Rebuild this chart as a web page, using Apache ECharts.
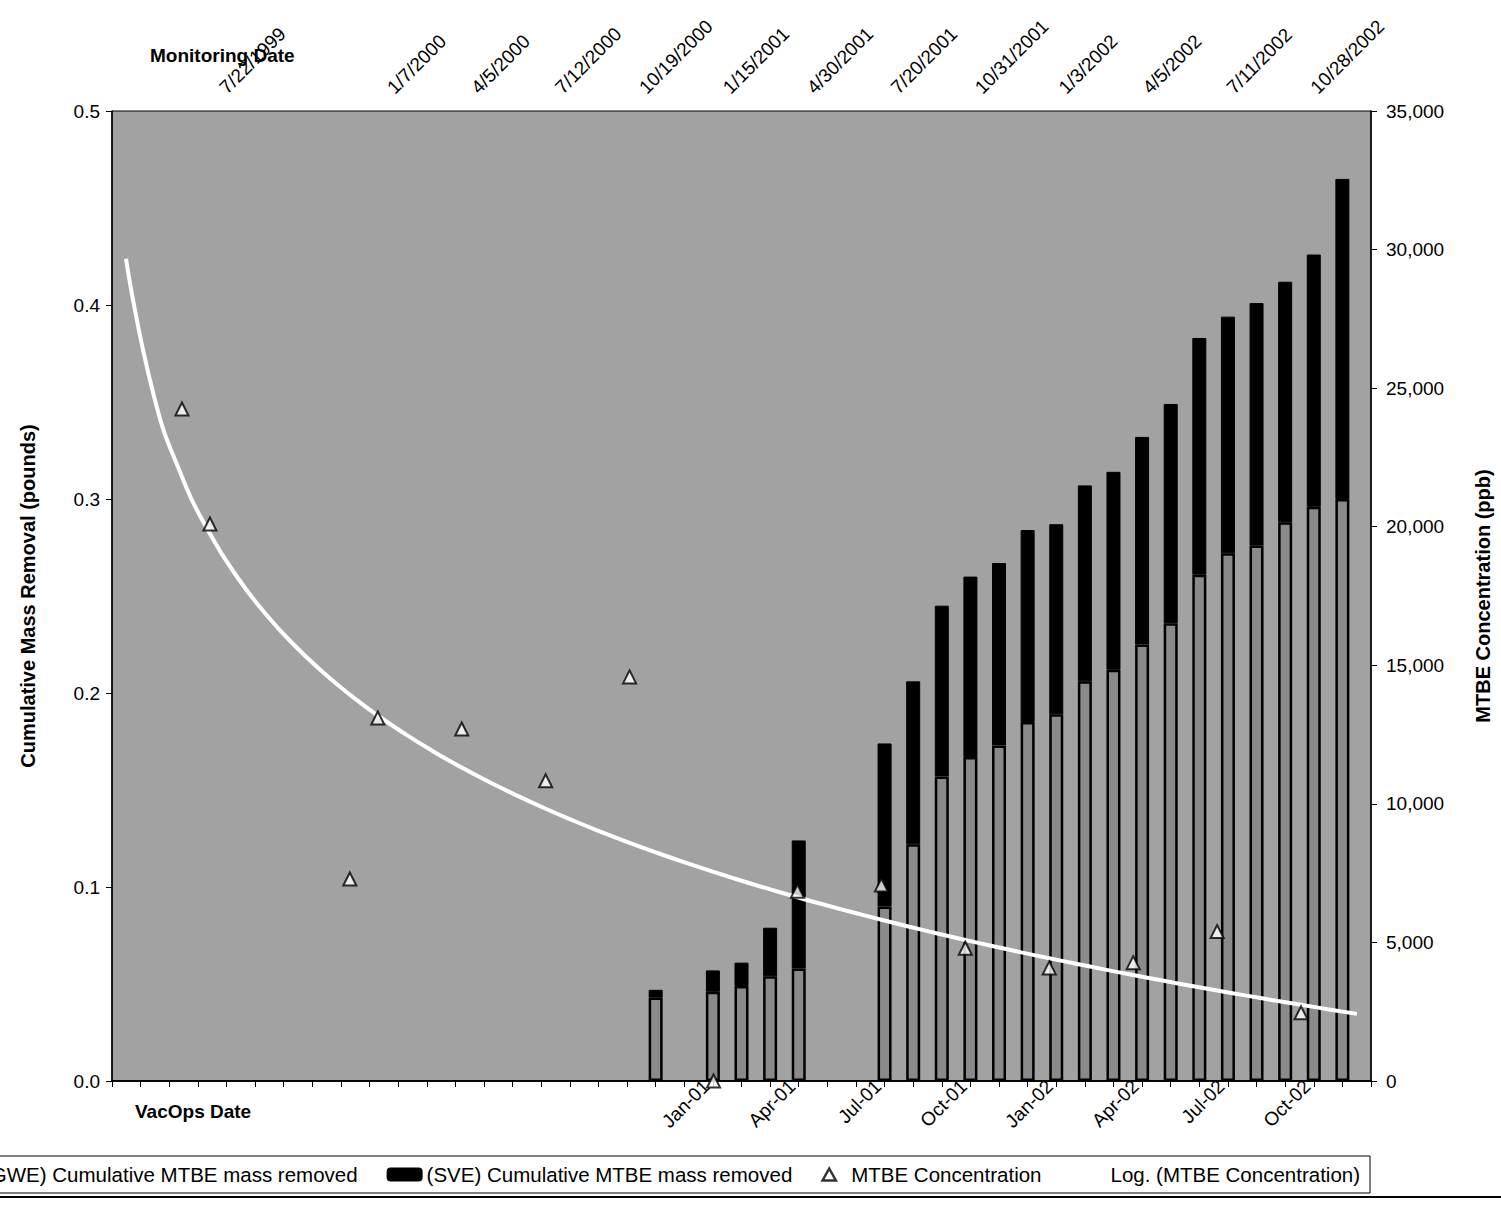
<!DOCTYPE html>
<html><head><meta charset="utf-8">
<script src="https://cdn.jsdelivr.net/npm/echarts@6/dist/echarts.min.js"></script>
<style>html,body{margin:0;padding:0;background:#fff}#c{width:1501px;height:1225px}</style>
</head><body><div id="c"></div>
<script>
// Monthly category axis (VacOps Date)
const axisMonths = ['Apr-99','May-99','Jun-99','Jul-99','Aug-99','Sep-99','Oct-99','Nov-99','Dec-99',
  'Jan-00','Feb-00','Mar-00','Apr-00','May-00','Jun-00','Jul-00','Aug-00','Sep-00','Oct-00','Nov-00','Dec-00',
  'Jan-01','Feb-01','Mar-01','Apr-01','May-01','Jun-01','Jul-01','Aug-01','Sep-01','Oct-01','Nov-01','Dec-01',
  'Jan-02','Feb-02','Mar-02','Apr-02','May-02','Jun-02','Jul-02','Aug-02','Sep-02','Oct-02','Nov-02','Dec-02'];
const vacOpsLabels = ['Jan-01','Apr-01','Jul-01','Oct-01','Jan-02','Apr-02','Jul-02','Oct-02'];

// Cumulative mass removal (pounds) per VacOps month
const vacOpsDates = ['Nov-00','Jan-01','Feb-01','Mar-01','Apr-01','Jul-01','Aug-01','Sep-01','Oct-01','Nov-01','Dec-01',
  'Jan-02','Feb-02','Mar-02','Apr-02','May-02','Jun-02','Jul-02','Aug-02','Sep-02','Oct-02','Nov-02'];
const gweMass = [0.043,0.046,0.049,0.054,0.058,0.090,0.122,0.157,0.167,0.173,0.185,
  0.189,0.206,0.212,0.225,0.236,0.261,0.272,0.276,0.288,0.296,0.300];
const sveMass = [0.004,0.011,0.012,0.025,0.066,0.084,0.084,0.088,0.093,0.094,0.099,
  0.098,0.101,0.102,0.107,0.113,0.122,0.122,0.125,0.124,0.130,0.165];

// Monitoring Date axis (one slot per month) and MTBE concentration (ppb)
const monitoringDates = ['','','','7/22/1999','','','','','','1/7/2000','','','4/5/2000','','','7/12/2000','','',
  '10/19/2000','','','1/15/2001','','','4/30/2001','','','7/20/2001','','','10/31/2001','','','1/3/2002','','',
  '4/5/2002','','','7/11/2002','','','10/28/2002','',''];
const mtbeConc = [null,null,24250,20100,null,null,null,null,7290,13100,null,null,12700,null,null,10830,null,null,
  14580,null,null,0,null,null,6850,null,null,7070,null,null,4790,null,null,4080,null,null,
  4270,null,null,5390,null,null,2460,null,null];

const leftTicks = {min:0, max:0.5, interval:0.1};
const rightTicks = {min:0, max:35000, interval:5000};

// build series data
const gweData = axisMonths.map(m => { const k = vacOpsDates.indexOf(m); return k < 0 ? null : gweMass[k]; });
const sveData = axisMonths.map(m => { const k = vacOpsDates.indexOf(m); return k < 0 ? null : sveMass[k]; });
const mtbePts = [];
mtbeConc.forEach((v, i) => { if (v !== null) mtbePts.push([i, v]); });

// Logarithmic trendline (least squares, x = position 1..n), like the spreadsheet's "Log." fit
let sl = 0, sy = 0, sll = 0, sly = 0, n = 0;
mtbePts.forEach(([i, v]) => { const l = Math.log(i + 1); sl += l; sy += v; sll += l * l; sly += l * v; n++; });
const slope = (n * sly - sl * sy) / (n * sll - sl * sl);
const icpt = (sy - slope * sl) / n;
const trendData = monitoringDates.map((_, i) => slope * Math.log(i + 1) + icpt);

const FONT = 'Liberation Sans';
const txt = {color:'#000', fontFamily:FONT, fontSize:19};

const chart = echarts.init(document.getElementById('c'), null, {renderer:'svg'});
chart.setOption({
  animation:false,
  backgroundColor:'#fff',
  grid:{left:112, right:126, top:111, bottom:144, show:true, backgroundColor:'#a2a2a2', borderColor:'#000', borderWidth:1},
  legend:{
    left:-66, top:1156, orient:'horizontal', itemWidth:34, itemHeight:12, itemGap:29,
    padding:[8,10], backgroundColor:'#fff', borderColor:'#000', borderWidth:1,
    textStyle:{...txt, fontSize:20.5},
    data:[
      {name:'(GWE) Cumulative MTBE mass removed'},
      {name:'(SVE) Cumulative MTBE mass removed'},
      {name:'MTBE Concentration', icon:'path://M5,0 L10,9 L0,9 Z', itemStyle:{color:'#fff', borderColor:'#000', borderWidth:2.5}},
      {name:'Log. (MTBE Concentration)'}
    ]
  },
  xAxis:[
    {type:'category', data:axisMonths, position:'bottom', boundaryGap:false,
     axisLine:{lineStyle:{color:'#000', width:1.5}},
     axisTick:{interval:0, length:6, lineStyle:{color:'#000'}},
     axisLabel:{interval:(i, v) => vacOpsLabels.includes(v), rotate:45, margin:9, verticalAlign:'bottom', ...txt},
     splitLine:{show:false}},
    {type:'category', data:monitoringDates, position:'top', boundaryGap:true,
     axisLine:{lineStyle:{color:'#000', width:1.5}},
     axisTick:{interval:0, length:6, lineStyle:{color:'#000'}},
     axisLabel:{interval:(i, v) => v !== '', rotate:45, margin:8, padding:[0,0,0,18], ...txt},
     splitLine:{show:false}}
  ],
  yAxis:[
    {type:'value', ...leftTicks, position:'left',
     name:'Cumulative Mass Removal (pounds)', nameLocation:'middle', nameGap:74,
     nameTextStyle:{...txt, fontSize:20, fontWeight:'bold'},
     axisLine:{show:true, lineStyle:{color:'#000', width:1.5}},
     axisTick:{show:true, length:6, lineStyle:{color:'#000'}},
     axisLabel:{formatter:v => v.toFixed(1), margin:12, ...txt},
     splitLine:{show:false}},
    {type:'value', ...rightTicks, position:'right',
     name:'MTBE Concentration (ppb)', nameLocation:'middle', nameGap:102,
     nameTextStyle:{...txt, fontSize:20, fontWeight:'bold'},
     axisLine:{show:true, lineStyle:{color:'#000', width:1.5}},
     axisTick:{show:true, length:6, lineStyle:{color:'#000'}},
     axisLabel:{formatter:v => v.toLocaleString('en-US'), margin:15, ...txt},
     splitLine:{show:false}}
  ],
  graphic:[
    {type:'text', left:150, top:46, style:{text:'Monitoring Date', fill:'#000', font:'bold 19px "Liberation Sans"'}},
    {type:'text', left:135, top:1102, style:{text:'VacOps Date', fill:'#000', font:'bold 19px "Liberation Sans"'}},
    {type:'line', shape:{x1:0, y1:1197, x2:1501, y2:1197}, style:{stroke:'#000', lineWidth:2}}
  ],
  series:[
    {name:'(GWE) Cumulative MTBE mass removed', type:'bar', stack:'mass', xAxisIndex:0, yAxisIndex:0,
     data:gweData, barWidth:14, itemStyle:{color:'#8a8a8a', borderColor:'#000', borderWidth:2.5}, z:2},
    {name:'(SVE) Cumulative MTBE mass removed', type:'bar', stack:'mass', xAxisIndex:0, yAxisIndex:0,
     data:sveData, barWidth:14, itemStyle:{color:'#000', borderColor:'#000', borderWidth:1}, z:2},
    {name:'Log. (MTBE Concentration)', type:'line', xAxisIndex:1, yAxisIndex:1, data:trendData,
     smooth:true, showSymbol:false, symbol:'none', lineStyle:{color:'#fff', width:4}, itemStyle:{color:'#fff'}, z:4},
    {name:'MTBE Concentration', type:'scatter', xAxisIndex:1, yAxisIndex:1, data:mtbePts,
     symbol:'triangle', symbolSize:13, clip:false,
     itemStyle:{color:'#fff', borderColor:'#000', borderWidth:2}, z:5}
  ]
});
</script></body></html>
